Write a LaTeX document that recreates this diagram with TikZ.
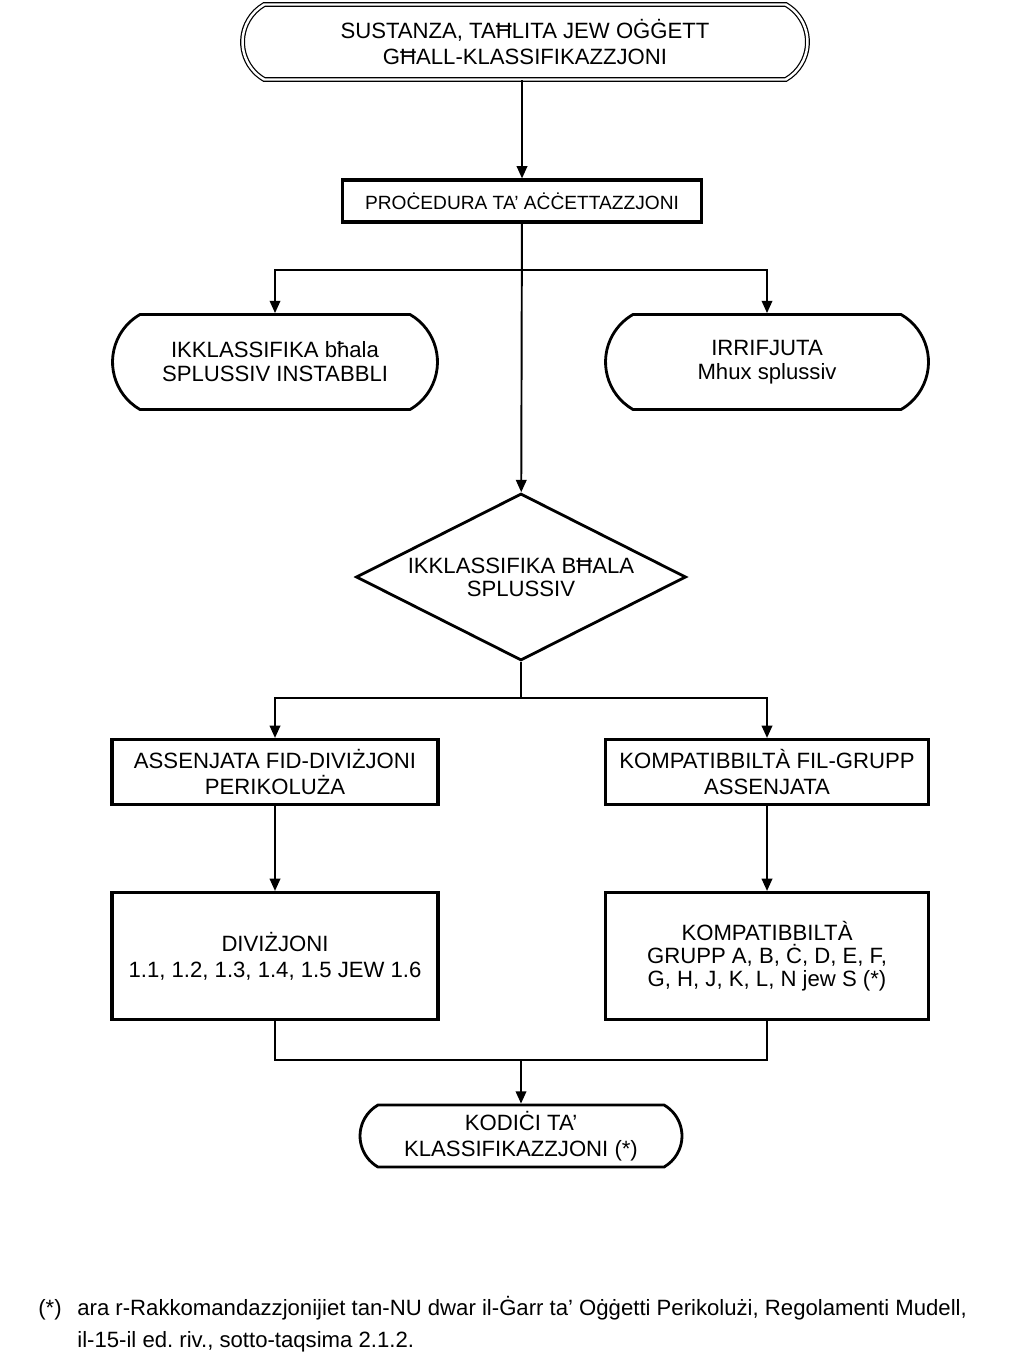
\documentclass[tikz,border=0pt]{standalone}
\usepackage{fontspec}
\setmainfont{Liberation Sans}
\usetikzlibrary{shapes.misc,shapes.geometric,arrows.meta}
\frenchspacing
\begin{document}
\begin{tikzpicture}[x=0.02cm,y=-0.02cm]
    % Define styles for boxes and lines
    \tikzstyle{term} = [draw, line width=1.6pt, rounded rectangle, rounded rectangle arc length=120, inner sep=0pt, align=center, font=\fontsize{12.6}{15}\selectfont]
    \tikzstyle{proc} = [draw, rectangle, line width=1.8pt, inner sep=0pt, align=center, font=\fontsize{12.6}{15}\selectfont]
    \tikzstyle{conn} = [line width=1.1pt]
    \tikzstyle{arr} = [conn, -{Triangle[width=6pt,length=7pt]}]

    \useasboundingbox (0,0) rectangle (1023,1364);

    % Boxes
    \node(start)[term, double, double distance=1.4pt, line width=0.7pt, minimum width=11.3cm, minimum height=1.5cm] at (525,42) {SUSTANZA, TAĦLITA JEW OĠĠETT\\GĦALL-KLASSIFIKAZZJONI};
    \node(accept)[proc, font=\fontsize{10.9}{13}\selectfont, minimum width=7.18cm, minimum height=0.84cm] at (522,201) {PROĊEDURA TA’ AĊĊETTAZZJONI};
    \node(unstable)[term, font=\fontsize{12.6}{13.6}\selectfont, minimum width=6.5cm, minimum height=1.9cm] at (275,362) {IKKLASSIFIKA bħala\\SPLUSSIV INSTABBLI};
    \node(reject)[term, font=\fontsize{12.6}{13.6}\selectfont, minimum width=6.46cm, minimum height=1.9cm] at (767,362) {IRRIFJUTA\\Mhux splussiv};
    \node(explosive)[diamond, draw, line width=1.6pt, aspect=2, inner sep=0pt, minimum width=6.6cm, minimum height=3.34cm, align=center, font=\fontsize{12.6}{13}\selectfont] at (521,577) {IKKLASSIFIKA BĦALA\\SPLUSSIV};
    \node(division)[proc, minimum width=6.52cm, minimum height=1.3cm] at (275,772) {ASSENJATA FID-DIVIŻJONI\\PERIKOLUŻA};
    \node(group)[proc, minimum width=6.46cm, minimum height=1.3cm] at (767,772) {KOMPATIBBILTÀ FIL-GRUPP\\ASSENJATA};
    \node(divlist)[proc, minimum width=6.52cm, minimum height=2.54cm] at (275,956) {DIVIŻJONI\\1.1, 1.2, 1.3, 1.4, 1.5 JEW 1.6};
    \node(grplist)[proc, font=\fontsize{12.6}{13.2}\selectfont, minimum width=6.46cm, minimum height=2.54cm] at (767,956) {KOMPATIBBILTÀ\\GRUPP A, B, Ċ, D, E, F,\\G, H, J, K, L, N jew S (*)};
    \node(code)[term, minimum width=6.44cm, minimum height=1.24cm] at (521,1136) {KODIĊI TA’\\KLASSIFIKAZZJONI (*)};

    \coordinate (split1) at (521,270);
    \coordinate (split2) at (521,698);
    \coordinate (merge) at (521,1060);

    % Connectors
    \draw[arr] (start.south -| accept.north) -- (accept);
    \draw[arr] (accept) -- (explosive);
    \draw[arr] (split1) -| (unstable);
    \draw[arr] (split1) -| (reject);
    \draw[conn] (explosive) -- (split2);
    \draw[arr] (split2) -| (division);
    \draw[arr] (split2) -| (group);
    \draw[arr] (division) -- (divlist);
    \draw[arr] (group) -- (grplist);
    \draw[conn] (divlist) |- (merge) -| (grplist);
    \draw[arr] (merge) -- (code);

    % Footnote
    \node(fnmark)[anchor=base west, inner sep=0pt, font=\fontsize{12.6}{15}\selectfont] at (38,1315) {(*)};
    \node(fnline1)[anchor=base west, inner sep=0pt, font=\fontsize{12.6}{15}\selectfont] at (77,1315) {ara r-Rakkomandazzjonijiet tan-NU dwar il-Ġarr ta’ Oġġetti Perikolużi, Regolamenti Mudell,};
    \node(fnline2)[anchor=base west, inner sep=0pt, font=\fontsize{12.6}{15}\selectfont] at (77,1347) {il-15-il ed. riv., sotto-taqsima 2.1.2.};
\end{tikzpicture}
\end{document}
